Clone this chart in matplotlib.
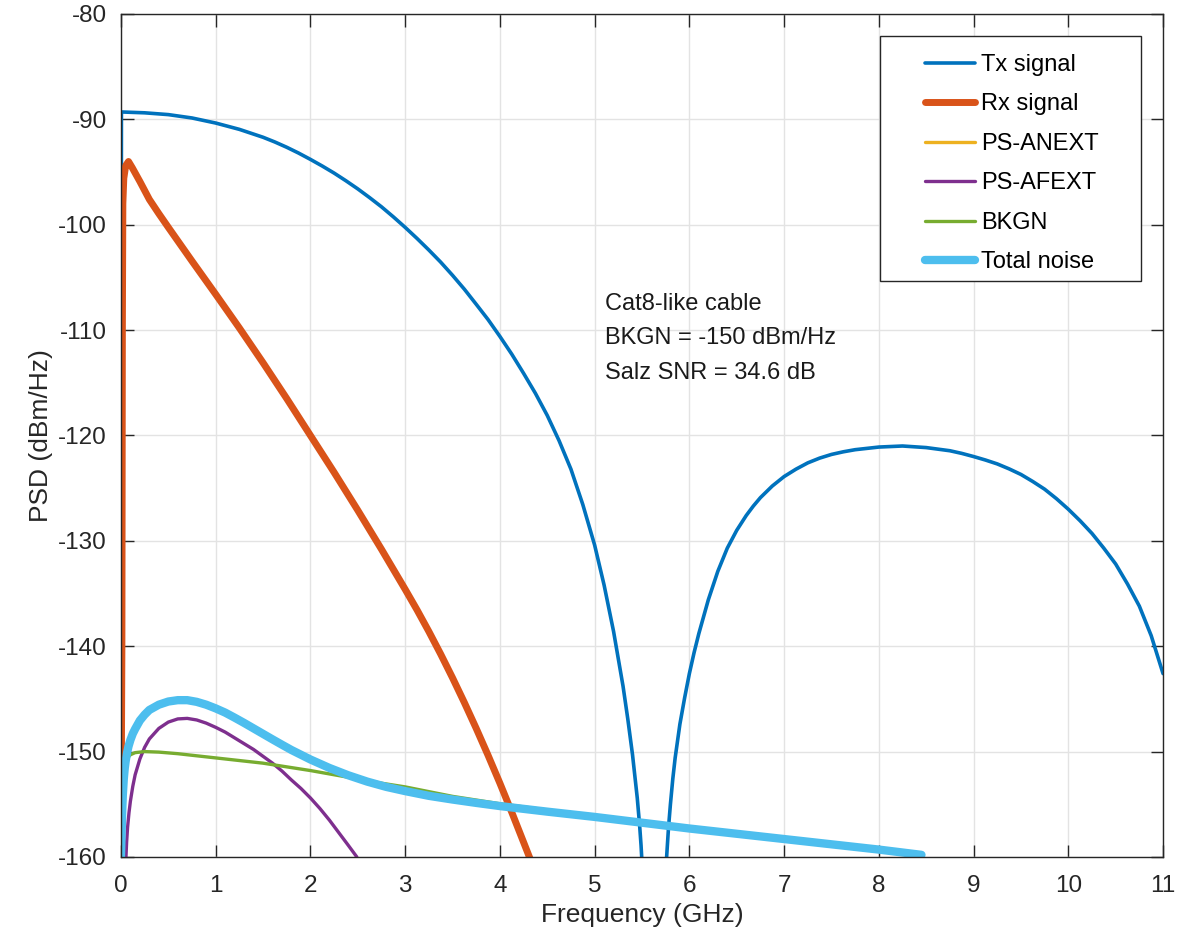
import numpy as np
import matplotlib
matplotlib.use('Agg')
import matplotlib.pyplot as plt
from matplotlib.patches import Rectangle

plt.rcParams['font.family'] = ['Liberation Sans', 'DejaVu Sans']
plt.rcParams['axes.unicode_minus'] = False

# Tx signal PSD (GHz, dBm/Hz)
tx_f = [0.0, 0.005, 0.25, 0.5, 0.75, 1.0, 1.25, 1.5, 1.625, 1.75, 1.875, 2.0,
        2.125, 2.25, 2.375, 2.5, 2.625, 2.75, 2.875, 3.0, 3.125, 3.25, 3.375,
        3.5, 3.625, 3.75, 3.875, 4.0, 4.125, 4.25, 4.375, 4.5, 4.625, 4.75,
        4.875, 5.0, 5.1, 5.2, 5.3, 5.35, 5.4, 5.45, 5.475, 5.49, 5.5,
        5.6,
        5.76, 5.78, 5.8, 5.825, 5.85, 5.9, 5.95, 6.0, 6.05, 6.1, 6.2, 6.3, 6.4,
        6.5, 6.6, 6.675, 6.75, 6.875, 7.0, 7.125, 7.25, 7.375, 7.5, 7.625, 7.75,
        8.0, 8.25, 8.5, 8.75, 8.875, 9.0, 9.125, 9.25, 9.375, 9.5, 9.625, 9.75,
        9.875, 10.0, 10.125, 10.25, 10.375, 10.5, 10.625, 10.75, 10.875, 11.0]
tx_psd = [-160, -89.3, -89.38, -89.55, -89.87, -90.35, -90.95, -91.7, -92.15,
          -92.65, -93.2, -93.8, -94.43, -95.1, -95.83, -96.6, -97.43, -98.3,
          -99.25, -100.25, -101.3, -102.4, -103.55, -104.8, -106.12, -107.55,
          -109.0, -110.6, -112.28, -114.1, -116.0, -118.1, -120.5, -123.2,
          -126.55, -130.4, -134.2, -138.6, -143.8, -146.9, -150.3, -154.4,
          -157.0, -158.9, -160.5,
          np.nan,
          -160, -157.2, -155.0, -152.6, -150.6, -147.4, -144.9, -142.6, -140.6,
          -138.8, -135.6, -132.9, -130.7, -129.0, -127.6, -126.7, -125.9, -124.8,
          -123.9, -123.2, -122.6, -122.15, -121.8, -121.55, -121.35, -121.1,
          -121.0, -121.15, -121.45, -121.7, -122.0, -122.33, -122.7, -123.17,
          -123.7, -124.37, -125.1, -126.0, -127.0, -128.1, -129.3, -130.7,
          -132.2, -134.1, -136.2, -139.0, -142.6]

# Rx signal
rx_f = [0.0, 0.01, 0.015, 0.02, 0.03, 0.05, 0.08, 0.12, 0.2, 0.3, 0.4, 0.5,
        0.625, 0.75, 1.0, 1.25, 1.5, 1.75, 2.0, 2.25, 2.5, 2.75, 2.875, 3.0,
        3.125, 3.25, 3.375, 3.5, 3.625, 3.75, 3.875, 4.0, 4.125, 4.25, 4.32]
rx_psd = [-160, -140, -110, -98.0, -95.6, -94.4, -94.0, -94.6, -95.9, -97.6,
          -98.95, -100.25, -101.85, -103.45, -106.6, -109.8, -113.1, -116.5,
          -120.0, -123.5, -127.1, -130.8, -132.7, -134.6, -136.55, -138.6,
          -140.75, -143.0, -145.35, -147.8, -150.35, -153.0, -155.75, -158.6,
          -160.2]

# PS-ANEXT stays below the plotted range
anext_f = []
anext_psd = []

# PS-AFEXT
afext_f = [0.053, 0.06, 0.07, 0.085, 0.1, 0.125, 0.15, 0.2, 0.25, 0.3, 0.4, 0.5,
           0.6, 0.7, 0.8, 0.9, 1.0, 1.1, 1.2, 1.3, 1.4, 1.5, 1.6, 1.7, 1.8, 1.9,
           2.0, 2.1, 2.2, 2.3, 2.4, 2.49]
afext_psd = [-160, -158.6, -157.2, -155.8, -154.7, -153.3, -152.2, -150.7, -149.6,
             -148.8, -147.8, -147.2, -146.9, -146.85, -147.0, -147.3, -147.7,
             -148.15, -148.7, -149.25, -149.8, -150.45, -151.1, -151.85, -152.7,
             -153.5, -154.4, -155.4, -156.5, -157.7, -158.9, -160]

# background noise
bkgn_f = [0.0, 0.01, 0.02, 0.04, 0.06, 0.08, 0.1, 0.15, 0.25, 0.4, 0.6, 0.8, 1.0,
          1.25, 1.5, 1.75, 2.0, 2.25, 2.5, 2.75, 3.0, 3.25, 3.5, 4.0, 4.5, 5.0,
          5.5, 6.0, 6.5, 7.0, 7.5, 8.0, 8.45]
bkgn_psd = [-160, -156.0, -153.8, -152.0, -151.0, -150.5, -150.3, -150.1, -150.0,
            -150.05, -150.2, -150.4, -150.6, -150.85, -151.1, -151.45, -151.8,
            -152.2, -152.6, -153.0, -153.35, -153.8, -154.25, -154.95, -155.55,
            -156.05, -156.6, -157.15, -157.65, -158.15, -158.65, -159.15, -159.65]

# total noise
tot_f = [0.0, 0.005, 0.01, 0.015, 0.02, 0.03, 0.04, 0.05, 0.065, 0.08, 0.1, 0.125,
         0.15, 0.2, 0.25, 0.3, 0.4, 0.5, 0.6, 0.7, 0.8, 0.9, 1.0, 1.1, 1.2, 1.3,
         1.4, 1.5, 1.6, 1.7, 1.8, 1.9, 2.0, 2.2, 2.4, 2.6, 2.8, 3.0, 3.25, 3.5,
         3.75, 4.0, 4.5, 5.0, 5.5, 6.0, 6.5, 7.0, 7.5, 8.0, 8.45]
tot_psd = [-160, -158.5, -156.6, -155.2, -154.1, -152.6, -151.6, -150.9, -150.1,
           -149.5, -148.9, -148.3, -147.85, -147.05, -146.5, -146.05, -145.55,
           -145.25, -145.12, -145.12, -145.28, -145.55, -145.9, -146.3, -146.78,
           -147.28, -147.8, -148.32, -148.84, -149.35, -149.85, -150.3, -150.75,
           -151.55, -152.25, -152.85, -153.35, -153.75, -154.2, -154.55, -154.87,
           -155.17, -155.7, -156.2, -156.75, -157.3, -157.8, -158.3, -158.8,
           -159.3, -159.8]

labels = ['Tx signal', 'Rx signal', 'PS-ANEXT', 'PS-AFEXT', 'BKGN', 'Total noise']
colors = ['#0072BD', '#D95319', '#EDB120', '#7E2F8E', '#77AC30', '#4DBEEE']
widths = [2.6, 5.0, 2.4, 2.4, 2.4, 6.0]
series = [(tx_f, tx_psd), (rx_f, rx_psd), (anext_f, anext_psd),
          (afext_f, afext_psd), (bkgn_f, bkgn_psd), (tot_f, tot_psd)]

fig = plt.figure(figsize=(12.01, 9.38), dpi=100)
ax = fig.add_axes([0.1007, 0.0864, 0.8677, 0.8987])

lines = []
for (f, p), lab, c, w in zip(series, labels, colors, widths):
    l, = ax.plot(f, p, color=c, lw=w, label=lab, solid_capstyle='round',
                 solid_joinstyle='round')
    lines.append(l)

ax.set_xlim(0, 11)
ax.set_ylim(-160, -80)
ax.set_xticks(range(0, 12))
ax.set_yticks(range(-160, -79, 10))
ax.grid(True, color='#e3e3e3', lw=1.0)
ax.set_axisbelow(True)
for s in ax.spines.values():
    s.set_color('#262626')
    s.set_linewidth(1.0)
ax.tick_params(direction='in', length=9, width=1.0, colors='#262626',
               labelsize=17.5, top=True, right=True, pad=10)
ax.tick_params(axis='x', pad=13)
ax.set_xlabel('Frequency (GHz)', fontsize=19, color='#262626', labelpad=4)
ax.set_ylabel('PSD (dBm/Hz)', fontsize=19, color='#262626', labelpad=4)

ax.text(5.11, -106.5, 'Cat8-like cable\nBKGN = -150 dBm/Hz\nSalz SNR = 34.6 dB',
        fontsize=17, color='#1a1a1a', ha='left', va='top', linespacing=1.72)

# legend frame drawn like the MATLAB box
ax.add_patch(Rectangle((0.7284, 0.6833), 0.2505, 0.2906, transform=ax.transAxes,
                       facecolor='white', edgecolor='#262626', lw=1.0, zorder=4))
leg = ax.legend(handles=lines, loc='upper left', bbox_to_anchor=(0.7716, 0.9526),
                frameon=False, fontsize=17, handlelength=2.1, handletextpad=0.26,
                labelspacing=0.74, borderpad=0, borderaxespad=0)
leg.set_zorder(5)

fig.savefig('out.png', dpi=100)
